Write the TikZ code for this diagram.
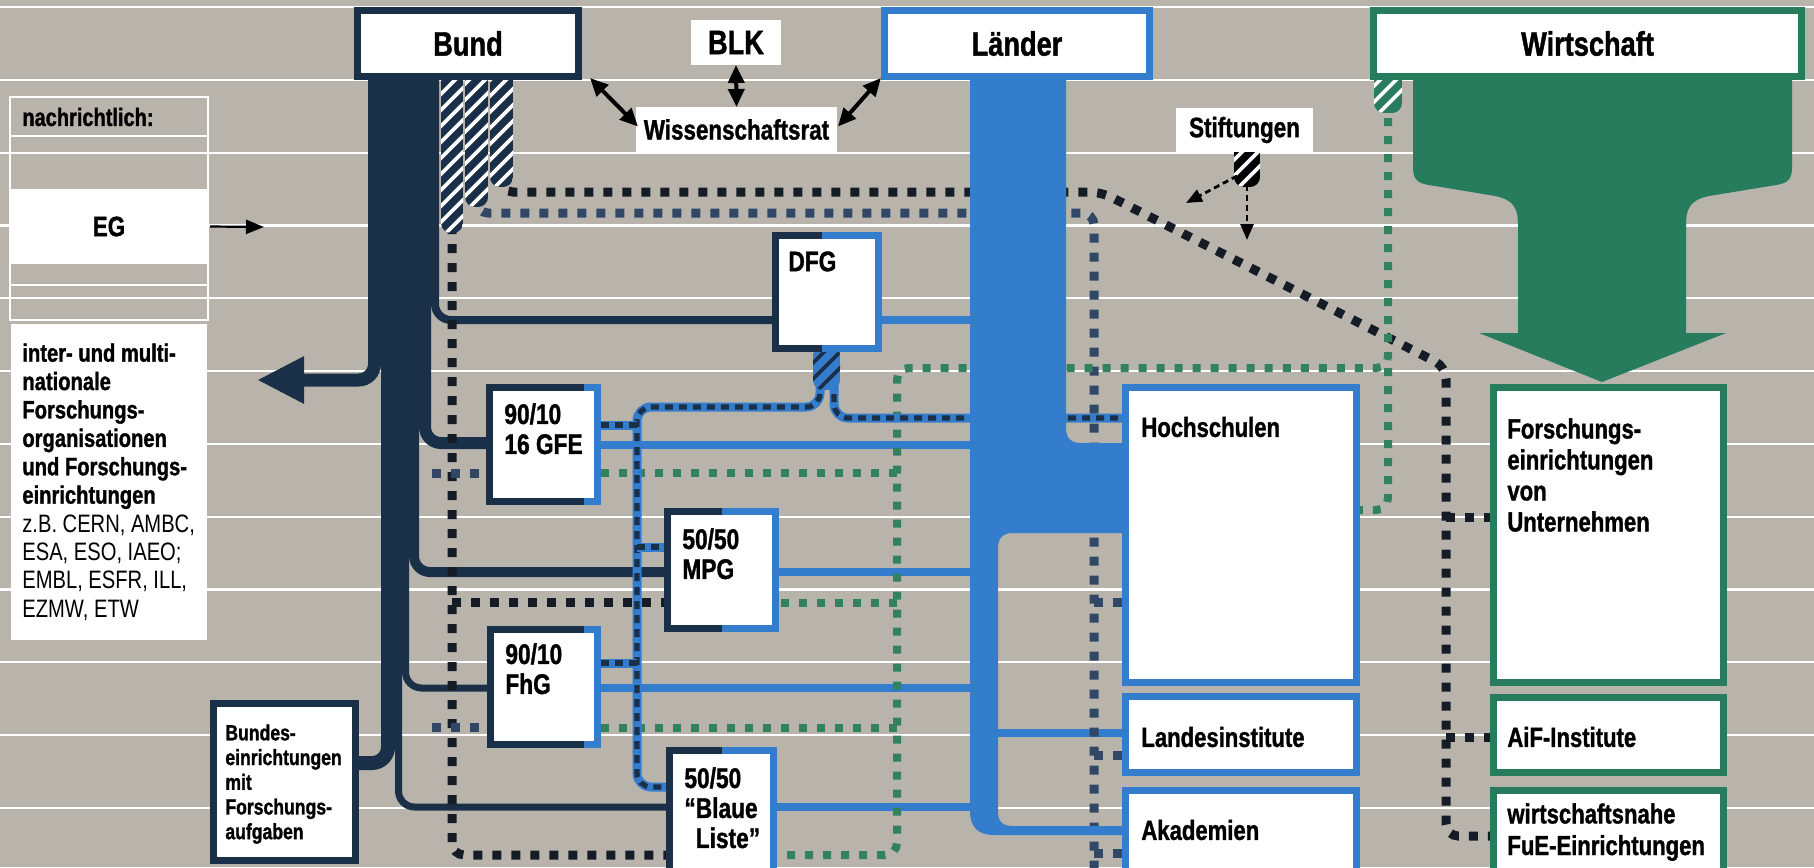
\documentclass[tikz,border=0pt]{standalone}
\usepackage{fontspec}
\setmainfont{Liberation Sans}[FakeStretch=0.8, BoldFeatures={FakeBold=1.2}]
\usetikzlibrary{arrows.meta,calc}
\definecolor{bg}{RGB}{184,180,172}
\definecolor{navy}{RGB}{26,48,72}
\definecolor{lblue}{RGB}{52,124,204}
\definecolor{grn}{RGB}{38,124,92}
\definecolor{dgrn}{RGB}{50,130,96}
\definecolor{dk}{RGB}{22,28,38}
\definecolor{slate}{RGB}{48,72,102}
\tikzset{
  hd/.style={font=\bfseries\fontsize{17}{20}\selectfont, inner sep=0},
  md/.style={font=\bfseries\fontsize{14}{16}\selectfont, inner sep=0},
  bxt/.style={font=\bfseries\fontsize{14.2}{15}\selectfont, inner sep=0, align=left, anchor=north west},
  rbt/.style={font=\bfseries\fontsize{13.8}{15.5}\selectfont, inner sep=0, align=left},
  pnl/.style={font=\fontsize{12.6}{14.2}\selectfont, inner sep=0, align=left, anchor=north west},
  bdt/.style={font=\bfseries\fontsize{11}{12.35}\selectfont, inner sep=0, align=left, anchor=north west},
  dotK/.style={dk, line width=4.5pt, dash pattern=on 4.5pt off 5pt},
  dotS/.style={slate, line width=4.5pt, dash pattern=on 4.5pt off 5pt},
  dotG/.style={dgrn, line width=4pt, dash pattern=on 4pt off 5pt},
  dfgl/.style={navy, line width=2.6pt, dash pattern=on 4pt off 3pt, preaction={draw=lblue, line width=4.5pt, solid}},
  dbl/.style={line width=2pt, {Triangle[length=9pt,width=8pt]}-{Triangle[length=9pt,width=8pt]}},
  sarr/.style={line width=1.4pt, dash pattern=on 3pt off 2pt, -{Triangle[length=8pt,width=6.5pt]}},
  egarr/.style={line width=1.1pt, -{Triangle[length=9pt,width=7pt]}}
}
\newcommand\defbox[5]{%
  \pgfmathsetmacro\mybw{(#4-#2)*0.5}\pgfmathsetmacro\mybh{(#5-#3)*0.5}%
  \node[inner sep=0, outer sep=0, minimum width=\mybw pt, minimum height=\mybh pt, anchor=north west] (#1) at (#2,#3) {};}
\newcommand\paintbox[4]{%
  \fill[#2] (#1.north west) rectangle (#1.south east);
  \fill[#3] (#1.north west) rectangle ($(#1.south west)!#4!(#1.south east)$);
  \fill[white] ([xshift=3.5pt,yshift=-3.5pt]#1.north west) rectangle ([xshift=-3.5pt,yshift=3.5pt]#1.south east);}
\newcommand\hatchstrip[6]{%
  \begin{scope}
  \clip[rounded corners=5pt] (#1,#3) -- (#1,#4) -- (#2,#4) -- (#2,#3) -- cycle;
  \fill[#5] (#1,#3) rectangle (#2,#4);
  \foreach \k in {0,...,14}{\draw[#6, line width=1.8pt] ({#1-5},{#4+10-16*\k}) -- ++(60,-60);}
  \end{scope}}
\begin{document}
\begin{tikzpicture}[x=0.5pt,y=-0.5pt]
\useasboundingbox (0,0) rectangle (1814,867);
\fill[bg] (0,0) rectangle (1814,867);
\foreach \k in {0,...,11}{\draw[white,line width=1.1pt] (0,{7+72.8*\k}) -- (1814,{7+72.8*\k});}

% box geometry
\defbox{bund}{354}{7}{582}{80}
\defbox{blk}{691}{20}{781}{65}
\defbox{wr}{636}{107}{837}{152}
\defbox{lae}{881}{7}{1153}{80}
\defbox{wi}{1370}{7}{1805}{80}
\defbox{stift}{1176}{108}{1313}{152}
\defbox{stub}{1234}{150}{1260}{185}
\defbox{dfg}{772}{232}{882}{352}
\defbox{gfe}{486}{384}{601}{505}
\defbox{mpg}{664}{508}{779}{632}
\defbox{fhg}{487}{626}{601}{748}
\defbox{bl}{666}{747}{777}{885}
\defbox{bundes}{210}{700}{359}{864}
\defbox{hs}{1122}{384}{1360}{686}
\defbox{li}{1122}{693}{1360}{776}
\defbox{ak}{1122}{787}{1360}{885}
\defbox{fe}{1490}{384}{1727}{686}
\defbox{aif}{1490}{694}{1727}{776}
\defbox{wn}{1490}{787}{1727}{885}
\defbox{egb}{11}{189}{207}{264}
\defbox{intl}{11}{324}{207}{640}

% left panel
\draw[white, line width=1.2pt] (10,97) rectangle (208,320);
\draw[white, line width=1.2pt] (10,136) -- (208,136) (10,285) -- (208,285);
\fill[white] (egb.north west) rectangle (egb.south east);
\fill[white] (intl.north west) rectangle (intl.south east);

% Wirtschaft funnel
\fill[grn] (1413,70) -- (1792,70) -- (1792,168) .. controls (1792,182) and (1785,184) .. (1770,186) -- (1709,196) .. controls (1689,200) and (1686,210) .. (1686,225) -- (1686,333) -- (1726,333) -- (1602,382) -- (1479,333) -- (1518,333) -- (1518,225) .. controls (1518,210) and (1515,200) .. (1495,196) -- (1435,186) .. controls (1420,184) and (1413,182) .. (1413,168) -- cycle;

% Laender thin lines
\begin{scope}[lblue, line width=4pt]
\draw (dfg.east |- 0,320) -- (975,320);
\draw (gfe.east |- 0,445) -- (975,445);
\draw (mpg.east |- 0,572) -- (975,572);
\draw (fhg.east |- 0,688) -- (978,688);
\draw (bl.east |- 0,807) -- (978,807);
\draw (990,733) -- (li.west |- 0,733);
\end{scope}

% Bund bundle
\begin{scope}[navy, rounded corners=8pt]
\draw[line width=6.5pt, -{Triangle[length=23.5pt,width=22pt]}] (374.5,60) -- (374.5,380) -- (257,380);
\draw[line width=7pt] (388,60) -- (388,763) -- (bundes.east |- 0,763);
\draw[line width=3.5pt] (398.5,60) -- (398.5,807) -- (bl.west |- 0,807);
\draw[line width=3.5pt] (405.5,60) -- (405.5,688) -- (fhg.west |- 0,688);
\draw[line width=5pt] (414,60) -- (414,572) -- (mpg.west |- 0,572);
\draw[line width=6pt] (425,60) -- (425,443) -- (gfe.west |- 0,443);
\draw[line width=4pt] (435,60) -- (435,320) -- (dfg.west |- 0,320);
\end{scope}

% dotted lines
\draw[dotK, rounded corners=6pt] (501,175) -- (501,192) -- (1101,192) -- (1446,367) -- (1446,836) -- (wn.west |- 0,836);
\draw[dotK] (1446,517) -- (fe.west |- 0,517);
\draw[dotK] (1446,737) -- (aif.west |- 0,737);
\draw[dotS, rounded corners=6pt] (476,195) -- (476,213) -- (1094,213) -- (1094,875);
\draw[dotS] (1094,602) -- (hs.west |- 0,602);
\draw[dotS] (1094,755) -- (li.west |- 0,755);
\draw[dotS] (1094,853) -- (ak.west |- 0,853);
\draw[dotK, rounded corners=6pt] (452,225) -- (452,855) -- (bl.west |- 0,855);
\draw[dotK] (452,602) -- (mpg.west |- 0,602);
\draw[dotS] (432,473) -- (gfe.west |- 0,473);
\draw[dotS] (432,727) -- (fhg.west |- 0,727);
\draw[dotG, rounded corners=6pt] (1388,100) -- (1388,368) -- (897,368) -- (897,855) -- (bl.east |- 0,855);
\draw[dotG, rounded corners=6pt] (1388,368) -- (1388,510) -- (hs.east |- 0,510);
\draw[dotG] (897,473) -- (gfe.east |- 0,473);
\draw[dotG] (897,603) -- (mpg.east |- 0,603);
\draw[dotG] (897,728) -- (fhg.east |- 0,728);
\draw[dfgl, rounded corners=7pt] (820,380) -- (820,407) -- (637,407) -- (637,787) -- (bl.west |- 0,787);
\draw[dfgl, rounded corners=7pt] (834,380) -- (834,418) -- (hs.west |- 0,418);
\draw[dfgl] (gfe.east |- 0,425) -- (637,425);
\draw[dfgl] (637,547) -- (mpg.west |- 0,547);
\draw[dfgl] (fhg.east |- 0,663) -- (637,663);

% Laender trunk
\fill[lblue] (970,60) -- (1066,60) -- (1066,428) .. controls (1066,438) and (1071,443) .. (1081,443) -- (1140,443) -- (1140,533) -- (1013,533) .. controls (1003,533) and (998,538) .. (998,548) -- (998,812) .. controls (998,822) and (1003,826) .. (1013,826) -- (1140,826) -- (1140,835) -- (994,835) .. controls (978,835) and (970,827) .. (970,811) -- cycle;

% hatched strips
\hatchstrip{441}{463}{60}{233}{navy}{white}
\hatchstrip{465}{488}{60}{207}{navy}{white}
\hatchstrip{490}{513}{60}{187}{navy}{white}
\hatchstrip{813}{840}{345}{390}{lblue}{navy}
\hatchstrip{1234}{1260}{140}{187}{black}{white}
\hatchstrip{1374}{1402}{70}{113}{grn}{white}

% boxes
\paintbox{bund}{navy}{navy}{0}
\paintbox{lae}{lblue}{lblue}{0}
\paintbox{wi}{grn}{grn}{0}
\fill[white] (blk.north west) rectangle (blk.south east);
\fill[white] (wr.north west) rectangle (wr.south east);
\fill[white] (stift.north west) rectangle (stift.south east);
\paintbox{dfg}{lblue}{navy}{0.45}
\paintbox{gfe}{lblue}{navy}{0.85}
\paintbox{mpg}{lblue}{navy}{0.5}
\paintbox{fhg}{lblue}{navy}{0.85}
\paintbox{bl}{lblue}{navy}{0.5}
\paintbox{bundes}{navy}{navy}{0}
\paintbox{hs}{lblue}{lblue}{0}
\paintbox{li}{lblue}{lblue}{0}
\paintbox{ak}{lblue}{lblue}{0}
\paintbox{fe}{grn}{grn}{0}
\paintbox{aif}{grn}{grn}{0}
\paintbox{wn}{grn}{grn}{0}

% texts
\node[hd] (bundT) at (bund.center) {Bund};
\node[hd] (blkT) at (blk.center) {BLK};
\node[hd] (laeT) at (lae.center) {Länder};
\node[hd] (wiT) at (wi.center) {Wirtschaft};
\node[md] (wrT) at (wr.center) {Wissenschaftsrat};
\node[md] (stT) at (stift.center) {Stiftungen};
\node[bxt] (dfgT) at ([xshift=8pt,yshift=-9.5pt]dfg.north west) {DFG};
\node[bxt] (gfeT) at ([xshift=9pt,yshift=-9.5pt]gfe.north west) {90/10\\16 GFE};
\node[bxt] (mpgT) at ([xshift=9pt,yshift=-10pt]mpg.north west) {50/50\\MPG};
\node[bxt] (fhgT) at ([xshift=9pt,yshift=-8.5pt]fhg.north west) {90/10\\FhG};
\node[bxt] (blT) at ([xshift=9pt,yshift=-10pt]bl.north west) {50/50\\“Blaue\\\phantom{“}Liste”};
\node[bdt] (bundesT) at (225,724) {Bundes-\\einrichtungen\\mit\\Forschungs-\\aufgaben};
\node[rbt, anchor=west] (hsT) at (1141,427) {Hochschulen};
\node[rbt, anchor=west] (liT) at (1141,737) {Landesinstitute};
\node[rbt, anchor=west] (akT) at (1141,830) {Akademien};
\node[rbt, anchor=north west] (feT) at (1507,418) {Forschungs-\\einrichtungen\\von\\Unternehmen};
\node[rbt, anchor=west] (aifT) at (1507,737) {AiF-Institute};
\node[rbt, anchor=north west, font=\bfseries\fontsize{13.8}{15.8}\selectfont] (wnT) at (1507,803) {wirtschaftsnahe\\FuE-Einrichtungen};
\node[font=\bfseries\fontsize{12.5}{14}\selectfont, anchor=west, inner sep=0] (nachT) at (22,117) {nachrichtlich:};
\node[md] (egT) at (egb.center) {EG};
\node[pnl] (intlT) at (22,343) {\textbf{inter- und multi-}\\\textbf{nationale}\\\textbf{Forschungs-}\\\textbf{organisationen}\\\textbf{und Forschungs-}\\\textbf{einrichtungen}\\z.B. CERN, AMBC,\\ESA, ESO, IAEO;\\EMBL, ESFR, ILL,\\EZMW, ETW};

% arrows
\coordinate (egEnd) at (264,227);
\draw[egarr] ($(egb.east)+(3,0)$) -- (egEnd);
\draw[dbl] (blk.south) -- (wr.north);
\draw[dbl] ($(bund.south east)+(8,-2)$) -- ($(wr.west)+(2,-3)$);
\draw[dbl] ($(lae.south west)+(0,-2)$) -- ($(wr.east)+(1,-3)$);
\coordinate (stA) at (1186,203);
\coordinate (stB) at (1247,240);
\draw[sarr] ($(stub.south)+(-10,-9)$) -- (stA);
\draw[sarr] (stub.south) -- (stB);
\end{tikzpicture}
\end{document}
